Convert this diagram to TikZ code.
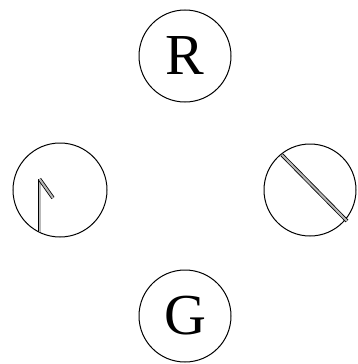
\documentclass[tikz,border=0pt]{standalone}
\usepackage{fontspec}
\setmainfont{Liberation Serif}
\begin{document}
\begin{tikzpicture}[x=1pt,y=-1pt,
  dial/.style={circle,draw,line width=1pt,minimum size=92pt,inner sep=0pt,font=\fontsize{58}{60}\selectfont},
  hand/.style={line width=0.8pt,double=gray!55,double distance=2pt}]
\useasboundingbox (0,0) rectangle (357,364);
\node[dial] (R) at (185,56) {R};
\node[dial] (G) at (185,316) {G};
\node[dial,minimum size=94pt] (L) at (60,190) {};
\node[dial,minimum size=92pt] (Rt) at (310,190) {};
\coordinate (lb) at (39.5,232);
\coordinate (lt) at (39.5,179);
\coordinate (ls) at (53,198);
\draw[hand] (lb) -- (lt);
\draw[hand] (lt) -- (ls);
\coordinate (ra) at (282,155);
\coordinate (rb) at (347,221);
\draw[hand] (ra) -- (rb);
\end{tikzpicture}
\end{document}
